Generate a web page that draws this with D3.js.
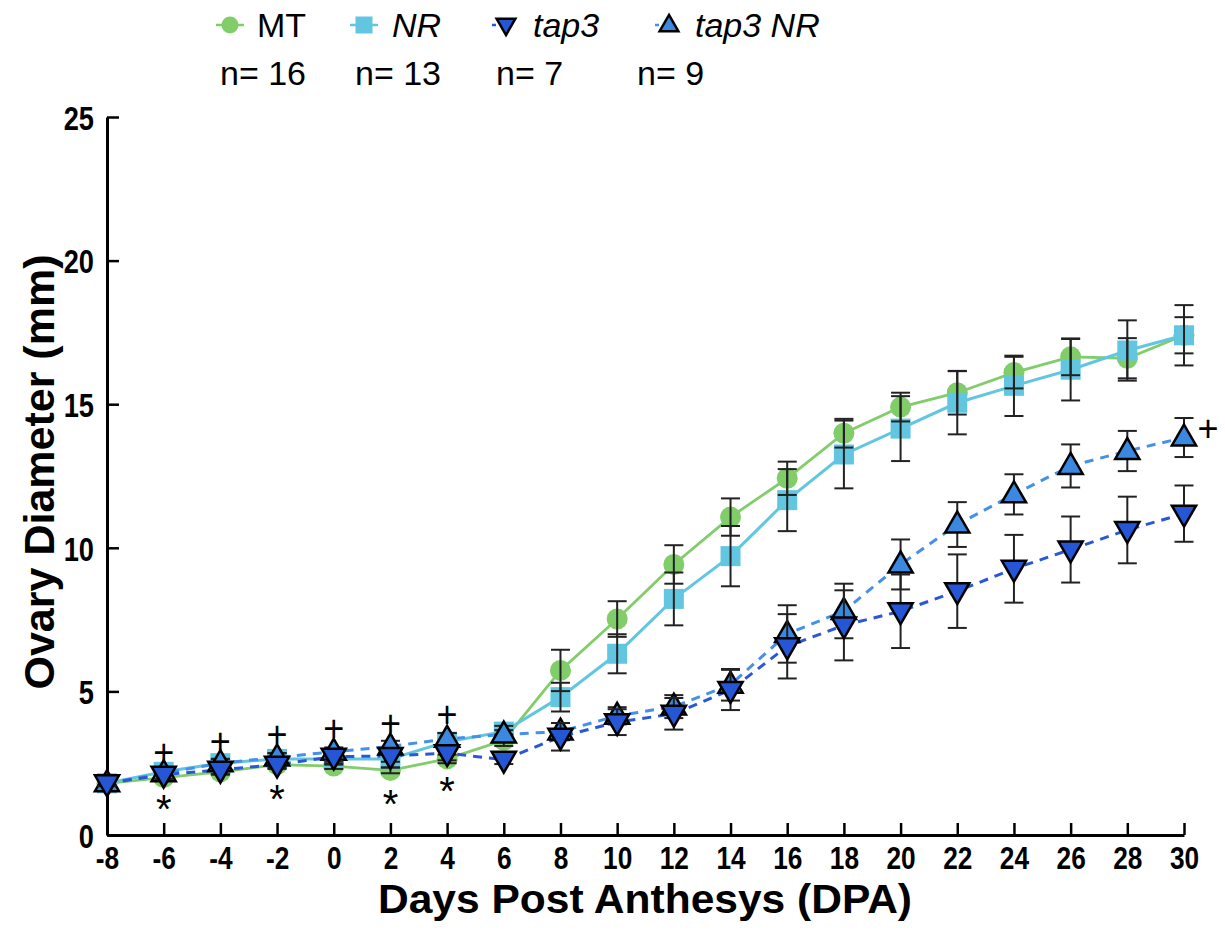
<!DOCTYPE html>
<html>
<head>
<meta charset="utf-8">
<script src="https://cdn.jsdelivr.net/npm/d3@7"></script>
<style>
  body { margin: 0; background: #fff; }
  svg { font-family: "Liberation Sans", Arial, sans-serif; }
</style>
</head>
<body>
<div id="chart"></div>
<script>
// data
const days = [-8, -6, -4, -2, 0, 2, 4, 6, 8, 10, 12, 14, 16, 18, 20, 22, 24, 26, 28, 30];

const mt = [1.8, 2.0, 2.2, 2.45, 2.4, 2.25, 2.65, 3.3, 5.73, 7.52, 9.42, 11.07, 12.42, 13.99, 14.9, 15.4, 16.1, 16.65, 16.6, 17.4];
const mtErr = [0.1, 0.1, 0.1, 0.1, 0.1, 0.1, 0.15, 0.2, 0.72, 0.62, 0.67, 0.65, 0.58, 0.5, 0.5, 0.76, 0.55, 0.64, 0.7, 0.63];

const nr = [1.8, 2.2, 2.5, 2.65, 2.65, 2.65, 3.25, 3.6, 4.8, 6.31, 8.22, 9.71, 11.66, 13.25, 14.15, 15.05, 15.64, 16.2, 16.87, 17.4];
const nrErr = [0.1, 0.15, 0.15, 0.2, 0.2, 0.3, 0.3, 0.2, 0.5, 0.68, 0.92, 1.05, 1.08, 1.18, 1.13, 1.1, 1.05, 1.07, 1.05, 1.05];

const tap3 = [1.8, 2.1, 2.27, 2.45, 2.73, 2.75, 2.85, 2.62, 3.42, 3.93, 4.22, 5.05, 6.57, 7.3, 7.79, 8.49, 9.27, 9.94, 10.62, 11.19];
const tap3Err = [0.1, 0.15, 0.15, 0.15, 0.15, 0.2, 0.25, 0.15, 0.48, 0.45, 0.55, 0.7, 1.12, 1.22, 1.28, 1.28, 1.18, 1.15, 1.16, 0.98];

const tap3nr = [1.8, 2.15, 2.5, 2.7, 2.9, 3.08, 3.35, 3.5, 3.6, 4.15, 4.47, 5.23, 7.0, 7.8, 9.42, 10.81, 11.86, 12.85, 13.37, 13.84];
const tap3nrErr = [0.1, 0.15, 0.15, 0.15, 0.15, 0.2, 0.2, 0.15, 0.3, 0.3, 0.4, 0.55, 1.0, 0.95, 0.87, 0.78, 0.7, 0.75, 0.7, 0.68];

const legendNames = ["MT", "NR", "tap3", "tap3 NR"];
const legendN = ["n= 16", "n= 13", "n= 7", "n= 9"];

// significance marks (day, value)
const plusMarks = [[-6, 2.85], [-4, 3.22], [-2, 3.49], [0, 3.69], [2, 3.87], [4, 4.19], [30.85, 14.13]];
const starMarks = [[-6, 1.22], [-2, 1.57], [2, 1.40], [4, 1.86]];

const yTicks = [0, 5, 10, 15, 20, 25];

const width = 1225, height = 933;
const margin = { top: 117, right: 41, bottom: 98, left: 107 };
const innerW = width - margin.left - margin.right;
const innerH = height - margin.top - margin.bottom;

const svg = d3.select("#chart").append("svg")
  .attr("width", width)
  .attr("height", height);

const g = svg.append("g")
  .attr("transform", `translate(${margin.left},${margin.top})`);

const x = d3.scaleLinear().domain([-8, 30]).range([0, innerW]);
const y = d3.scaleLinear().domain([0, 25]).range([innerH, 0]);

// squeeze text horizontally to mimic a narrow bold face
function narrow(sel, k) {
  sel.each(function () {
    const len = this.getComputedTextLength();
    d3.select(this).attr("textLength", len * k).attr("lengthAdjust", "spacingAndGlyphs");
  });
}

// axes
const xAxis = g.append("g")
  .attr("transform", `translate(0,${innerH})`)
  .call(d3.axisBottom(x).tickValues(days).tickFormat(d => String(d))
    .tickSizeInner(-12).tickSizeOuter(0).tickPadding(11));
const yAxis = g.append("g")
  .call(d3.axisLeft(y).tickValues(yTicks).tickFormat(d => String(d))
    .tickSizeInner(-12).tickSizeOuter(0).tickPadding(13));

[xAxis, yAxis].forEach(a => {
  a.select(".domain").attr("stroke", "#000").attr("stroke-width", 3);
  a.selectAll(".tick line").attr("stroke", "#000").attr("stroke-width", 2.5);
  a.selectAll(".tick text")
    .attr("fill", "#000")
    .style("font-weight", "bold");
});
xAxis.selectAll(".tick text").style("font-size", "32px").attr("dy", "0.71em").call(narrow, 0.82);
yAxis.selectAll(".tick text").style("font-size", "34px").attr("dy", "0.36em").call(narrow, 0.8);

// axis titles, stretched to a fixed width
const xTitleW = 534;
svg.append("text")
  .attr("x", 645 - xTitleW / 2)
  .attr("y", 913)
  .style("font-size", "41px")
  .style("font-weight", "bold")
  .attr("textLength", xTitleW)
  .attr("lengthAdjust", "spacingAndGlyphs")
  .text("Days Post Anthesys (DPA)");

const yTitleW = 435;
svg.append("text")
  .attr("transform", `translate(54,${472 + yTitleW / 2}) rotate(-90)`)
  .style("font-size", "43px")
  .style("font-weight", "bold")
  .attr("textLength", yTitleW)
  .attr("lengthAdjust", "spacingAndGlyphs")
  .text("Ovary Diameter (mm)");

// series definitions
const series = [
  { key: "MT", vals: mt, err: mtErr, color: "#80cd6a", line: "#80cd6a", dash: null, lw: 2.8, shape: "circle" },
  { key: "NR", vals: nr, err: nrErr, color: "#62c6e1", line: "#62c6e1", dash: null, lw: 3, shape: "square" },
  { key: "tap3 NR", vals: tap3nr, err: tap3nrErr, color: "#3a88e0", line: "#4490ea", dash: "9,7", lw: 3, shape: "up" },
  { key: "tap3", vals: tap3, err: tap3Err, color: "#2456d6", line: "#2a57d8", dash: "9,7", lw: 3, shape: "down" }
];

const line = d3.line().x(d => x(d.day)).y(d => y(d.v));

function rows(s) {
  return days.map((d, i) => ({ day: d, v: s.vals[i], e: s.err[i] }));
}

// lines
series.forEach(s => {
  g.append("path")
    .datum(rows(s))
    .attr("fill", "none")
    .attr("stroke", s.line)
    .attr("stroke-width", s.lw)
    .attr("stroke-dasharray", s.dash)
    .attr("d", line);
});

function drawMarkers(sel, s, size) {
  if (s.shape === "circle") {
    sel.append("circle").attr("r", size * 0.5).attr("fill", s.color);
  } else if (s.shape === "square") {
    sel.append("rect").attr("x", -size / 2).attr("y", -size / 2)
      .attr("width", size).attr("height", size).attr("fill", s.color);
  } else {
    const h = size * 0.95, w = size * 1.1;
    const pts = s.shape === "up"
      ? [[0, -h * 0.62], [w / 2, h * 0.38], [-w / 2, h * 0.38]]
      : [[0, h * 0.62], [w / 2, -h * 0.38], [-w / 2, -h * 0.38]];
    sel.append("path")
      .attr("d", "M" + pts.map(p => p.join(",")).join("L") + "Z")
      .attr("fill", s.color)
      .attr("stroke", "#000")
      .attr("stroke-width", 2.5)
      .attr("stroke-linejoin", "miter");
  }
}

function drawErrors(s) {
  const eg = g.append("g").attr("stroke", "#222").attr("stroke-width", 2);
  rows(s).forEach(d => {
    const cx = x(d.day);
    const top = y(d.v + d.e), bot = y(d.v - d.e);
    eg.append("line").attr("x1", cx).attr("x2", cx).attr("y1", top).attr("y2", bot);
    eg.append("line").attr("x1", cx - 9.5).attr("x2", cx + 9.5).attr("y1", top).attr("y2", top);
    eg.append("line").attr("x1", cx - 9.5).attr("x2", cx + 9.5).attr("y1", bot).attr("y2", bot);
  });
}

function drawPoints(s, size) {
  const pg = g.append("g");
  rows(s).forEach(d => {
    const m = pg.append("g").attr("transform", `translate(${x(d.day)},${y(d.v)})`);
    drawMarkers(m, s, size);
  });
}

// MT and NR: markers, then bars over them
drawPoints(series[0], 21);
drawPoints(series[1], 20);
drawErrors(series[0]);
drawErrors(series[1]);
// triangles sit over their bars
drawErrors(series[2]);
drawPoints(series[2], 22);
drawErrors(series[3]);
drawPoints(series[3], 22);

// significance marks
g.selectAll(".plus")
  .data(plusMarks)
  .join("text")
  .attr("x", d => x(d[0]))
  .attr("y", d => y(d[1]))
  .attr("text-anchor", "middle")
  .attr("dy", "0.33em")
  .style("font-size", "36px")
  .text("+");

g.selectAll(".star")
  .data(starMarks)
  .join("text")
  .attr("x", d => x(d[0]))
  .attr("y", d => y(d[1]))
  .attr("text-anchor", "middle")
  .attr("dy", "0.58em")
  .style("font-size", "40px")
  .text("*");

// legend
const legendX = [230, 364, 506, 669];
const legendTextX = [257, 392, 533, 695];
const legendNX = [220, 355, 496, 637];
const legendOrder = [series[0], series[1], series[3], series[2]];

legendOrder.forEach((s, i) => {
  const lg = svg.append("g");
  lg.append("line")
    .attr("x1", legendX[i] - 14).attr("x2", legendX[i] + 14)
    .attr("y1", 25).attr("y2", 25)
    .attr("stroke", s.line)
    .attr("stroke-width", 2.5)
    .attr("stroke-dasharray", s.dash ? "4,10" : null);
  const m = lg.append("g").attr("transform", `translate(${legendX[i]},25)`);
  drawMarkers(m, s, 17);
  lg.append("text")
    .attr("x", legendTextX[i]).attr("y", 37)
    .style("font-size", "34px")
    .style("font-style", i === 0 ? "normal" : "italic")
    .text(legendNames[i]);
  lg.append("text")
    .attr("x", legendNX[i]).attr("y", 85)
    .style("font-size", "34px")
    .text(legendN[i]);
});
</script>
</body>
</html>
